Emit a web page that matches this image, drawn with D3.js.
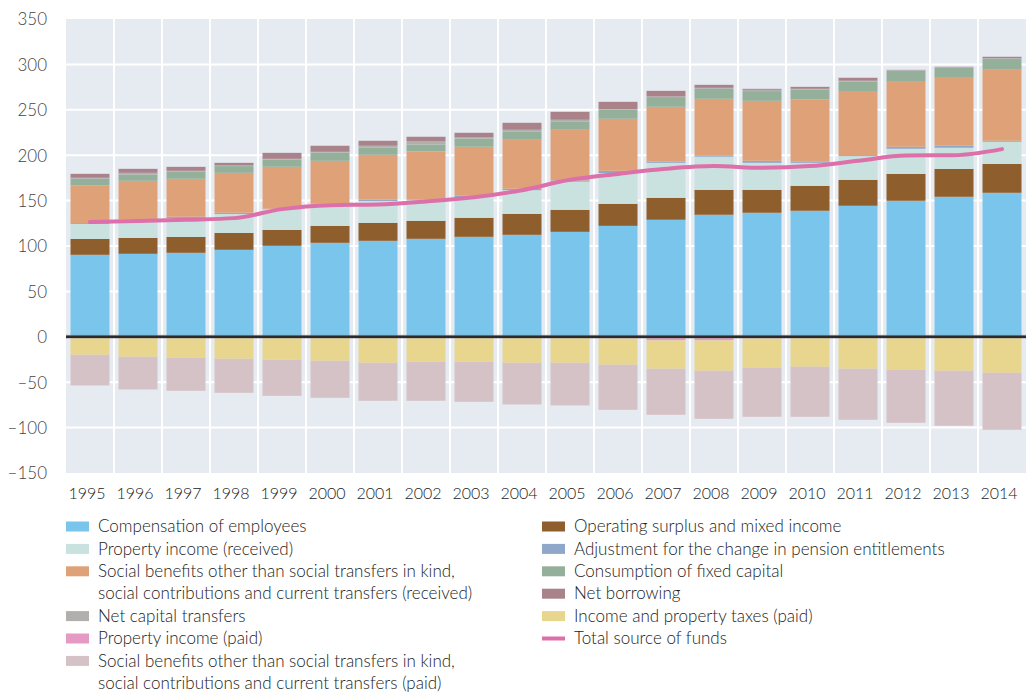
<!DOCTYPE html>
<html>
<head>
<meta charset="utf-8">
<script src="https://cdn.jsdelivr.net/npm/d3@7"></script>
<style>
  html, body { margin: 0; padding: 0; background: #ffffff; }
  svg { display: block; }
  text { font-family: Lato, "Open Sans", sans-serif; font-weight: 300; }
</style>
</head>
<body>
<svg id="chart" width="1026" height="695"></svg>
<script>
const years = ["1995","1996","1997","1998","1999","2000","2001","2002","2003","2004","2005","2006","2007","2008","2009","2010","2011","2012","2013","2014"];

// Resources (positive)
const compensation     = [90.3, 91.4, 92.5, 95.8, 100.2, 103.5, 105.7, 107.9, 110.1, 112.3, 115.6, 122.2, 128.9, 134.4, 136.6, 138.8, 144.3, 149.8, 154.2, 158.6];
const operatingSurplus = [17.6, 17.6, 17.6, 18.7, 17.6, 18.7, 19.9, 19.9, 21.0, 23.2, 24.3, 24.3, 24.2, 27.5, 25.3, 27.5, 28.6, 29.7, 30.8, 31.9];
const propertyIncomeRec= [16.3, 20.1, 20.8, 20.8, 22.7, 23.8, 24.0, 22.6, 22.9, 26.0, 31.0, 33.8, 38.5, 36.4, 29.7, 25.3, 26.1, 27.6, 23.2, 24.3];
const pensionAdjustment= [1.0, 0.5, 1.3, 1.3, 0.5, 0.5, 1.3, 0.5, 1.3, 1.5, 1.3, 2.5, 1.5, 1.0, 2.2, 1.1, 1.1, 2.2, 2.2, 1.1];
const socialBenefitsRec= [41.5, 42.2, 41.8, 44.0, 46.2, 47.3, 49.5, 53.2, 54.0, 54.0, 55.8, 57.3, 60.2, 62.8, 66.1, 68.7, 69.7, 71.5, 74.8, 78.2];
const fixedCapital     = [7.3, 7.0, 8.1, 7.4, 8.1, 9.2, 8.1, 7.7, 9.1, 8.8, 8.8, 9.9, 10.7, 11.0, 10.7, 11.0, 11.2, 12.1, 11.1, 12.1];
const netCapital       = [1.1, 1.8, 0.7, 0.7, 0.7, 0.7, 1.9, 3.3, 1.1, 2.2, 2.2, 0.7, 0.7, 1.1, 1.4, 0.7, 1.0, 0.7, 0.7, 0.6];
const netBorrowing     = [4.4, 4.4, 4.4, 2.9, 6.6, 6.7, 5.5, 5.2, 5.2, 7.7, 8.8, 8.1, 6.2, 3.3, 1.1, 2.2, 3.3, 0.4, 0.4, 1.6];

// Uses (negative)
const propertyIncomePaid = [-0.4, -0.4, -0.4, -0.4, -0.4, -0.4, -0.4, -0.4, -0.4, -0.4, -0.5, -1.8, -4.0, -4.0, -1.8, -0.6, -0.6, -0.6, -0.6, -0.6];
const taxesPaid          = [-19.4, -21.6, -22.7, -23.8, -24.9, -26.0, -28.2, -27.1, -27.1, -28.2, -28.1, -29.0, -31.2, -33.4, -32.3, -32.4, -34.6, -35.7, -36.8, -39.0];
const socialBenefitsPaid = [-33.8, -36.0, -36.4, -37.5, -39.7, -40.8, -41.9, -43.0, -44.1, -45.9, -47.0, -49.6, -50.7, -52.9, -54.0, -55.1, -56.2, -58.4, -60.6, -62.8];

// Line
const totalSourceOfFunds = [126.3, 127.4, 128.9, 130.7, 140.6, 145.0, 145.7, 149.0, 153.6, 161.5, 172.9, 179.4, 185.0, 188.0, 186.1, 188.0, 193.8, 199.7, 200.0, 206.7];

const yTicks = [-150, -100, -50, 0, 50, 100, 150, 200, 250, 300, 350];

const series = [
  {key: "comp",  label: "Compensation of employees", values: compensation, color: "#7ac5ec"},
  {key: "ops",   label: "Operating surplus and mixed income", values: operatingSurplus, color: "#8e5e2d"},
  {key: "pir",   label: "Property income (received)", values: propertyIncomeRec, color: "#c9e2df"},
  {key: "adj",   label: "Adjustment for the change in pension entitlements", values: pensionAdjustment, color: "#8fa7c9"},
  {key: "sbr",   label: ["Social benefits other than social transfers in kind,", "social contributions and current transfers (received)"], values: socialBenefitsRec, color: "#dfa278"},
  {key: "cfc",   label: "Consumption of fixed capital", values: fixedCapital, color: "#95b09a"},
  {key: "nct",   label: "Net capital transfers", values: netCapital, color: "#b1afad"},
  {key: "nb",    label: "Net borrowing", values: netBorrowing, color: "#a98389"},
  {key: "pip",   label: "Property income (paid)", values: propertyIncomePaid, color: "#e699c2"},
  {key: "tax",   label: "Income and property taxes (paid)", values: taxesPaid, color: "#e8d68e"},
  {key: "sbp",   label: ["Social benefits other than social transfers in kind,", "social contributions and current transfers (paid)"], values: socialBenefitsPaid, color: "#d5c2c6"}
];
const lineColor = "#dd70aa";

const svg = d3.select("#chart");
const pLeft = 66, pRight = 1026, pTop = 19, pBottom = 473;

const x = d3.scaleBand().domain(years).range([pLeft, pRight]).paddingInner(0.1875).paddingOuter(0.09375);
const y = d3.scaleLinear().domain([-150, 350]).range([pBottom, pTop]);

// background
svg.append("rect").attr("x", pLeft).attr("y", pTop).attr("width", pRight - pLeft).attr("height", pBottom - pTop).attr("fill", "#e6ebf2");

// horizontal grid
svg.append("g").selectAll("line").data(yTicks.filter(d => d !== -150 && d !== 350)).join("line")
  .attr("x1", pLeft).attr("x2", pRight).attr("y1", d => y(d)).attr("y2", d => y(d))
  .attr("stroke", "#ffffff").attr("stroke-width", 2);

// vertical grid at band boundaries
const step = x.step();
svg.append("g").selectAll("line").data(years.slice(1)).join("line")
  .attr("x1", d => x(d) - x.paddingInner() * step / 2)
  .attr("x2", d => x(d) - x.paddingInner() * step / 2)
  .attr("y1", pTop).attr("y2", pBottom)
  .attr("stroke", "#ffffff").attr("stroke-width", 2);

// stacked data
const table = years.map((yr, i) => {
  const row = {year: yr};
  series.forEach(s => row[s.key] = s.values[i]);
  return row;
});
const stack = d3.stack().keys(series.map(s => s.key)).offset(d3.stackOffsetDiverging);
const stacked = stack(table);

svg.append("g").selectAll("g").data(stacked).join("g")
  .attr("fill", (d, i) => series[i].color)
  .selectAll("rect").data(d => d).join("rect")
  .attr("x", d => x(d.data.year))
  .attr("width", x.bandwidth())
  .attr("y", d => y(Math.max(d[0], d[1])))
  .attr("height", d => Math.abs(y(d[0]) - y(d[1])));

// zero line
svg.append("line").attr("x1", pLeft).attr("x2", pRight).attr("y1", y(0)).attr("y2", y(0))
  .attr("stroke", "#9a9a9a").attr("stroke-width", 4).attr("stroke-opacity", 0.6);
svg.append("line").attr("x1", pLeft).attr("x2", pRight).attr("y1", y(0)).attr("y2", y(0))
  .attr("stroke", "#2b2b2b").attr("stroke-width", 2.4);

// total line
const line = d3.line()
  .x((d, i) => x(years[i]) + x.bandwidth() / 2)
  .y(d => y(d))
  .curve(d3.curveMonotoneX);
svg.append("path").datum(totalSourceOfFunds)
  .attr("d", line).attr("fill", "none")
  .attr("stroke", lineColor).attr("stroke-width", 4).attr("stroke-linecap", "round");

// y axis
const yAxis = d3.axisLeft(y).tickValues(yTicks).tickSize(0).tickPadding(0)
  .tickFormat(d => d < 0 ? "\u2013" + Math.abs(d) : String(d));
const yg = svg.append("g").attr("transform", `translate(${47},0)`).call(yAxis);
yg.select(".domain").remove();
yg.selectAll("text").attr("fill", "#444444").attr("font-size", 17).attr("dy", "0.35em")
  .attr("font-family", "Lato, sans-serif").attr("font-weight", 300);

// x axis
const xAxis = d3.axisBottom(x).tickSize(0).tickPadding(0);
const xg = svg.append("g").attr("transform", `translate(-3,${488})`).call(xAxis);
xg.select(".domain").remove();
xg.selectAll("text").attr("fill", "#222222").attr("font-size", 16).attr("dy", "0.71em")
  .attr("font-family", "Lato, sans-serif").attr("font-weight", 300);

// legend
const legendCols = [
  {swX: 66, txX: 98, items: [
    {s: "comp", row: 0}, {s: "pir", row: 1}, {s: "sbr", row: 2}, {s: "nct", row: 4}, {s: "pip", row: 5}, {s: "sbp", row: 6}
  ]},
  {swX: 542, txX: 574, items: [
    {s: "ops", row: 0}, {s: "adj", row: 1}, {s: "cfc", row: 2}, {s: "nb", row: 3}, {s: "tax", row: 4}, {s: "line", row: 5}
  ]}
];
const rowGap = 22.4;
const rowY = r => 526.5 + r * rowGap;
const lg = svg.append("g");
legendCols.forEach(col => {
  col.items.forEach(it => {
    const cy = rowY(it.row);
    if (it.s === "line") {
      lg.append("rect").attr("x", col.swX).attr("y", cy - 2).attr("width", 23).attr("height", 4).attr("fill", lineColor);
      lg.append("text").attr("x", col.txX).attr("y", cy).attr("dy", "0.33em")
        .attr("font-size", 17).attr("fill", "#222222").text("Total source of funds");
      return;
    }
    const s = series.find(d => d.key === it.s);
    lg.append("rect").attr("x", col.swX).attr("y", cy - 5).attr("width", 23).attr("height", 10).attr("fill", s.color);
    const lines = Array.isArray(s.label) ? s.label : [s.label];
    lines.forEach((t, k) => {
      lg.append("text").attr("x", col.txX).attr("y", cy + k * rowGap).attr("dy", "0.33em")
        .attr("font-size", 17).attr("fill", "#222222").text(t);
    });
  });
});
</script>
</body>
</html>
